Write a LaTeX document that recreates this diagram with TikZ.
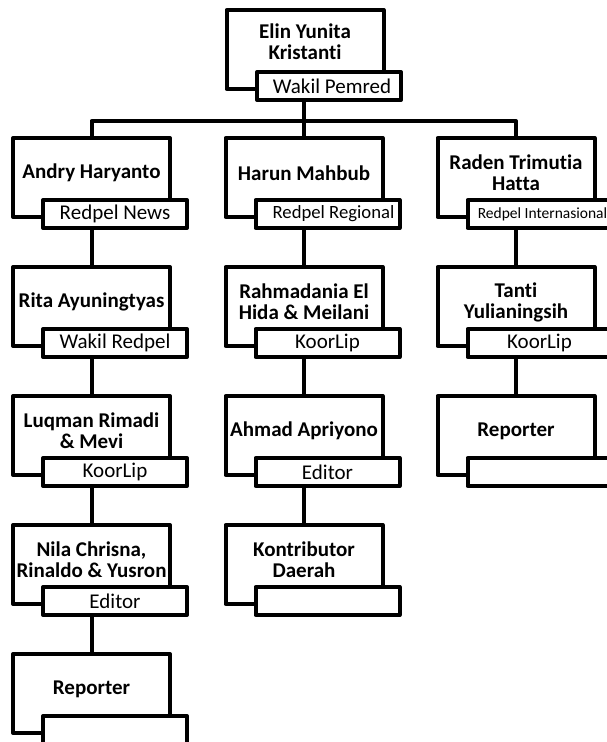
\documentclass[tikz,border=0pt]{standalone}
\usepackage{fontspec}
\setmainfont{Carlito}[Ligatures={NoCommon}]
\begin{document}
\begin{tikzpicture}[x=1pt,y=-1pt,
  box/.style={draw, line width=4pt, fill=white, line join=round, minimum width=157pt, minimum height=79pt, inner sep=0pt, outer sep=0pt, anchor=north},
  tag/.style={draw, line width=4pt, fill=white, line join=round, minimum width=144pt, minimum height=28pt, inner sep=0pt, outer sep=0pt, anchor=north west, font=\fontsize{21}{22}\selectfont},
  smalltag/.style={tag, font=\fontsize{15.5}{17}\selectfont},
  midtag/.style={tag, font=\fontsize{18.7}{20}\selectfont},
  who/.style={align=center, font=\bfseries\fontsize{21}{21}\selectfont, inner sep=0pt},
  link/.style={line width=4pt}]
\useasboundingbox (0,0) rectangle (606,742);
\coordinate (bus) at (304,121);
% top
\node[box] (t) at (305,10) {};
\node[tag] (tt) at (257,72) {\hspace{6pt}Wakil Pemred};
\node[who] at (305,42) {Elin Yunita\\Kristanti};
% left column
\node[box] (a1) at (91.5,138) {};
\node[tag] (a1t) at (43,200) {Redpel News};
\node[who] at (91.5,173) {Andry Haryanto};
\node[box] (a2) at (91.5,267) {};
\node[tag] (a2t) at (43,329) {Wakil Redpel};
\node[who] at (91.5,302) {Rita Ayuningtyas};
\node[box] (a3) at (91.5,396) {};
\node[tag] (a3t) at (43,458) {KoorLip};
\node[who] at (91.5,431) {Luqman Rimadi\\\& Mevi};
\node[box] (a4) at (91.5,525) {};
\node[tag] (a4t) at (43,587) {Editor};
\node[who] at (91.5,560) {Nila Chrisna,\\Rinaldo \& Yusron};
\node[box] (a5) at (91.5,654) {};
\node[tag] (a5t) at (43,716) {};
\node[who] at (91.5,689) {Reporter};
% middle column
\node[box] (b1) at (304,138) {};
\node[midtag] (b1t) at (255.5,200) {\hspace{12pt}Redpel Regional};
\node[who] at (304,173) {Harun Mahbub};
\node[box] (b2) at (304,267) {};
\node[tag] (b2t) at (255.5,329) {KoorLip};
\node[who] at (304,302) {Rahmadania El\\Hida \& Meilani};
\node[box] (b3) at (304,396) {};
\node[tag] (b3t) at (255.5,458) {Editor};
\node[who] at (304,431) {Ahmad Apriyono};
\node[box] (b4) at (304,525) {};
\node[tag] (b4t) at (255.5,587) {};
\node[who] at (304,560) {Kontributor\\Daerah};
% right column
\node[box] (c1) at (516,138) {};
\node[smalltag] (c1t) at (467.5,200) {\hspace{6pt}Redpel Internasional};
\node[who] at (516,173) {Raden Trimutia\\Hatta};
\node[box] (c2) at (516,267) {};
\node[tag] (c2t) at (467.5,329) {KoorLip};
\node[who] at (516,302) {Tanti\\Yulianingsih};
\node[box] (c3) at (516,396) {};
\node[tag] (c3t) at (467.5,458) {};
\node[who] at (516,431) {Reporter};
% connectors
\draw[link] (tt.south -| bus) -- (bus);
\draw[link, line join=round] (a1.north) |- (bus) -| (c1.north);
\draw[link] (bus) -- (b1.north);
\draw[link] (a1t.south -| a1.north) -- (a2.north);
\draw[link] (a2t.south -| a2.north) -- (a3.north);
\draw[link] (a3t.south -| a3.north) -- (a4.north);
\draw[link] (a4t.south -| a4.north) -- (a5.north);
\draw[link] (b1t.south -| b1.north) -- (b2.north);
\draw[link] (b2t.south -| b2.north) -- (b3.north);
\draw[link] (b3t.south -| b3.north) -- (b4.north);
\draw[link] (c1t.south -| c1.north) -- (c2.north);
\draw[link] (c2t.south -| c2.north) -- (c3.north);
\end{tikzpicture}
\end{document}
